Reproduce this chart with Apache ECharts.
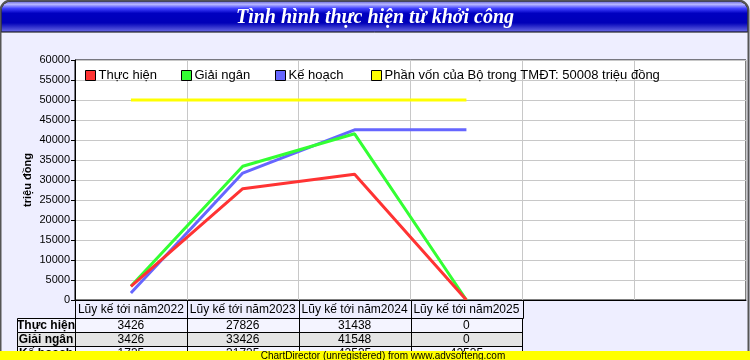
<!DOCTYPE html>
<html>
<head>
<meta charset="utf-8">
<script src="https://cdn.jsdelivr.net/npm/echarts@6/dist/echarts.min.js"></script>
<style>html,body{margin:0;padding:0;background:#eeeeff;}#c{width:750px;height:360px;}</style>
</head>
<body>
<div id="c"></div>
<script>
const titleText = 'Tình hình thực hiện từ khởi công';
const categories = ['Lũy kế tới năm2022', 'Lũy kế tới năm2023', 'Lũy kế tới năm2024', 'Lũy kế tới năm2025'];
const seriesNames = ['Thực hiện', 'Giải ngân', 'Kế hoạch', 'Phần vốn của Bộ trong TMĐT: 50008 triệu đồng'];
const thucHien = [3426, 27826, 31438, 0];
const giaiNgan = [3426, 33426, 41548, 0];
const keHoach = [1735, 31735, 42535, 42535];
const phanVon = [50008, 50008, 50008, 50008];
const tableRows = ['Thực hiện', 'Giải ngân', 'Kế hoạch'];
const yAxisTitle = 'triệu đồng';
const footerText = 'ChartDirector (unregistered) from www.advsofteng.com';

const colors = ['#ff3333', '#33ff33', '#6666ff', '#ffff00'];
const FONT = 'Liberation Sans, Arial, sans-serif';
const axisCats = categories.concat(['', '']);
function pad(arr) { return arr.concat(['-', '-']); }

const chart = echarts.init(document.getElementById('c'), null, {renderer: 'canvas'});
const legendLefts = [85, 181, 275, 371];
const option = {
  backgroundColor: '#eeeeff',
  animation: false,
  title: {
    text: titleText, left: 'center', top: 3,
    textStyle: {fontFamily: 'Liberation Serif, Times New Roman, serif', fontStyle: 'italic', fontWeight: 'bold', fontSize: 20, color: '#ffffff'}
  },
  legend: seriesNames.map((n, i) => ({
    data: [n], left: legendLefts[i], top: 69, padding: 0, icon: 'rect', itemWidth: 10, itemHeight: 10,
    itemStyle: {borderColor: '#000', borderWidth: 1},
    textStyle: {fontFamily: FONT, fontSize: 13, color: '#000', padding: [0, 0, 0, -2]}, selectedMode: false
  })),
  grid: {left: 75, right: 4, top: 60, bottom: 60, show: true, backgroundColor: '#ffffff', borderColor: '#000', borderWidth: 1},
  xAxis: {
    type: 'category', data: axisCats, boundaryGap: true,
    axisLine: {lineStyle: {color: '#000'}}, axisTick: {show: false}, axisLabel: {show: false},
    splitLine: {show: true, interval: 0, lineStyle: {color: '#c8c8c8'}}
  },
  yAxis: {
    type: 'value', min: 0, max: 60000, interval: 5000,
    name: yAxisTitle, nameLocation: 'middle', nameGap: 42, nameRotate: 90, nameMoveOverlap: false,
    nameTextStyle: {fontFamily: FONT, fontSize: 11, fontWeight: 'bold', color: '#000'},
    axisLine: {show: true, lineStyle: {color: '#000'}},
    axisTick: {show: true, length: 4, lineStyle: {color: '#000'}},
    axisLabel: {fontFamily: FONT, fontSize: 11, color: '#000', margin: 5, formatter: v => String(v)},
    splitLine: {lineStyle: {color: '#c8c8c8'}}
  },
  series: [thucHien, giaiNgan, keHoach, phanVon].map((d, i) => ({
    name: seriesNames[i], type: 'line', data: pad(d), showSymbol: false, symbol: 'none',
    color: colors[i], lineStyle: {width: 3, color: colors[i]}, z: i === 3 ? 1 : 2 + (i === 2 ? 0 : i === 0 ? 2 : 1)
  }))
};
chart.setOption(option);

function buildGraphics() {
  const g = [];
  g.push({type: 'rect', shape: {x: 0.5, y: 0.5, width: 748, height: 370, r: [10, 10, 0, 0]},
    style: {fill: 'none', stroke: '#555', lineWidth: 2}, z: 10});
  g.push({type: 'rect', shape: {x: 1, y: 1, width: 747, height: 31, r: [10, 10, 0, 0]},
    style: {fill: new echarts.graphic.LinearGradient(0, 0, 0, 1, [
      {offset: 0, color: '#5050d0'}, {offset: 0.12, color: '#b8b8ff'}, {offset: 0.25, color: '#4040ff'},
      {offset: 0.4, color: '#0000c0'}, {offset: 0.7, color: '#0000b8'}, {offset: 1, color: '#7070e8'}]),
      stroke: '#000', lineWidth: 1}, z: 1});
  const centers = categories.map((c, i) => chart.convertToPixel({xAxisIndex: 0}, i));
  const bw = centers[1] - centers[0];
  const yTop = 300;
  const hdrH = 18, rowH = 14;
  categories.forEach((c, i) => {
    g.push({type: 'rect', shape: {x: Math.round(centers[i] - bw / 2) + 0.5, y: yTop + 0.5, width: Math.round(bw), height: hdrH},
      style: {fill: '#eeeeff', stroke: '#000', lineWidth: 1}, z: 5});
    g.push({type: 'text', x: centers[i], y: yTop + 10, style: {text: c, fontFamily: FONT, fontSize: 12, fill: '#000', textAlign: 'center', textVerticalAlign: 'middle'}, z: 6});
  });
  const rowData = [thucHien, giaiNgan, keHoach];
  const fills = ['#f4f4ff', '#e4e4e4', '#f4f4ff'];
  const x0 = 17, x1 = Math.round(centers[categories.length - 1] + bw / 2);
  rowData.forEach((arr, r) => {
    const y = yTop + hdrH + r * rowH;
    g.push({type: 'rect', shape: {x: x0 + 0.5, y: y + 0.5, width: x1 - x0, height: rowH}, style: {fill: fills[r], stroke: '#000', lineWidth: 1}, z: 5});
    g.push({type: 'line', shape: {x1: 75.5, y1: y, x2: 75.5, y2: y + rowH}, style: {stroke: '#000', lineWidth: 1}, z: 6});
    g.push({type: 'text', x: 46, y: y + 8, style: {text: tableRows[r], fontFamily: FONT, fontSize: 12, fontWeight: 'bold', fill: '#000', textAlign: 'center', textVerticalAlign: 'middle'}, z: 6});
    arr.forEach((v, i) => {
      const xr = Math.round(centers[i] + bw / 2) + 0.5;
      g.push({type: 'line', shape: {x1: xr, y1: y, x2: xr, y2: y + rowH}, style: {stroke: '#000', lineWidth: 1}, z: 6});
      g.push({type: 'text', x: centers[i], y: y + 8, style: {text: String(v), fontFamily: FONT, fontSize: 12, fill: '#000', textAlign: 'center', textVerticalAlign: 'middle'}, z: 6});
    });
  });
  g.push({type: 'rect', shape: {x: 0, y: 351, width: 750, height: 9}, style: {fill: '#ffff00'}, z: 20});
  g.push({type: 'text', x: 383, y: 356, style: {text: footerText, fontFamily: FONT, fontSize: 10, fill: '#000', textAlign: 'center', textVerticalAlign: 'middle'}, z: 21});
  return g;
}
chart.setOption({graphic: buildGraphics()});
</script>
</body>
</html>
